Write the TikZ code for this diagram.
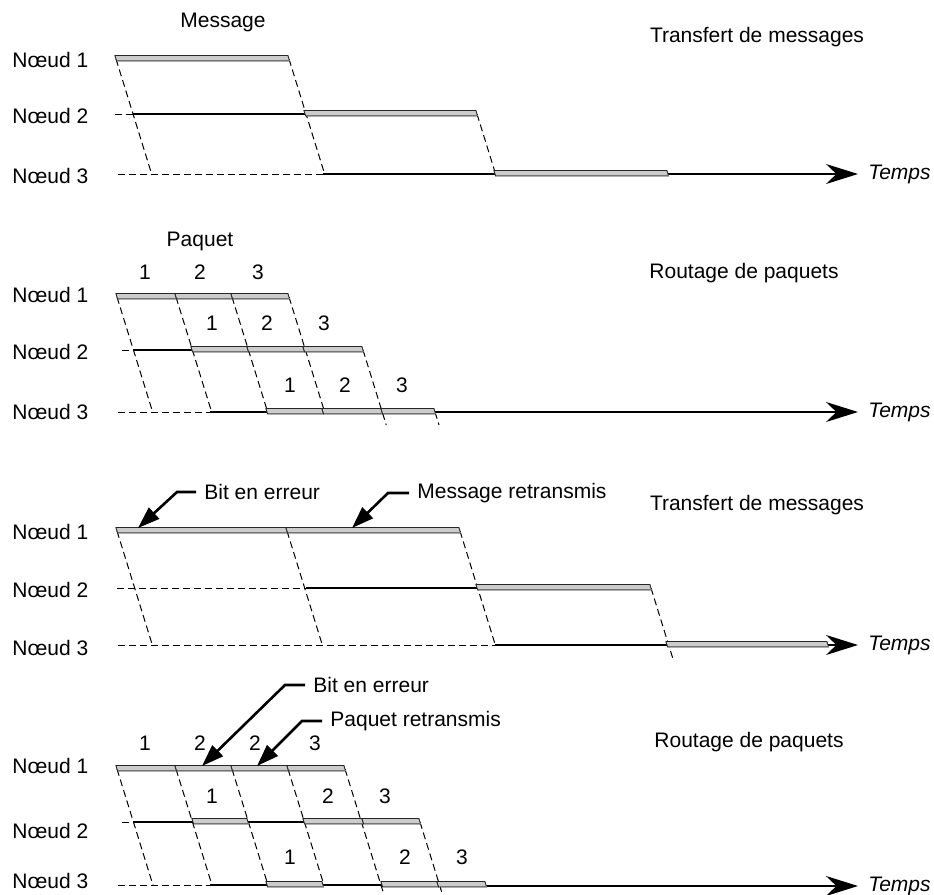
\documentclass[tikz,border=0pt]{standalone}
\usepackage{fontspec}
\setmainfont{Liberation Sans}
\usetikzlibrary{arrows.meta}

\begin{document}
\begin{tikzpicture}[x=.5pt,y=-.5pt,line join=miter,
  txt/.style={inner sep=0pt,font=\fontsize{10.5}{12}\selectfont},
  callout/.style={txt,inner xsep=4pt},
  timelabel/.style={txt,anchor=west,font=\fontsize{10.5}{12}\selectfont\itshape},
  idle/.style={line width=.5pt,dash pattern=on 3.5pt off 2pt},
  hop/.style={line width=.5pt,dash pattern=on 3.5pt off 2pt},
  busy/.style={line width=1.4pt},
  pkt/.style={draw=black!85,line width=.45pt,fill=black!20},
  pktlow/.style={draw=black!55,line width=.8pt},
  timeaxis/.style={line width=.6pt,-{Stealth[length=16pt,width=10pt]}},
  lead/.style={line width=1.3pt,-{Triangle[length=11pt,width=7.5pt]}}]

\useasboundingbox (0,0) rectangle (934,895);

% Part 1: message switching.
\node[txt] (msg) at (223,22) {Message};
\node[txt] (titlea) at (757,37) {Transfert de messages};
\foreach \ly/\n in {60/1,116/2,176/3}
  \node[txt,anchor=west] (a\n) at (12,\ly) {Nœud \n};
\draw[idle] (115,114) -- (133,114);
\draw[idle] (118,174) -- (323,174);
\foreach \x/\ya/\yb in {116/59/174,289/59/174,477/114/174}
  \draw[hop] (\x,\ya) -- ({\x+.31*(\yb-\ya)},\yb);
\draw[busy] (133,114) -- (305,114);
\draw[busy] (323,174) -- (495,174);
\node[timelabel] (ta) at (868,174) {Temps};
\draw[timeaxis] (668,174) -- ([xshift=-5pt]ta.west);
\foreach \a/\b/\y in {116/289/59,305/477/114,495/668/174}
{
  \draw[pkt] (\a-1.1,\y-3.5) -- (\b-1.1,\y-3.5) -- (\b+.6,\y+2) -- (\a+.6,\y+2) -- cycle;
  \draw[pktlow] (\a+.5,\y+1.4) -- (\b+.5,\y+1.4);
}

% Part 2: packet routing.
\node[txt] (pkt) at (200,241) {Paquet};
\node[txt] (titleb) at (744,273) {Routage de paquets};
\foreach \ly/\n in {295/1,352/2,412/3}
  \node[txt,anchor=west] (b\n) at (12,\ly) {Nœud \n};
\foreach \x/\y/\t in {145/272/1,200/272/2,258/272/3,212/323/1,267/323/2,324/323/3,
  290/385/1,345/385/2,402/385/3}
  \node[txt] (bn\x) at (\x,\y) {\t};
\draw[idle] (122,350) -- (133,350);
\draw[idle] (118,412) -- (210,412);
\foreach \x/\ya/\yb in {117/297/412,176/297/412,232/297/412,289/297/412,363/350/425,435/412/425}
  \draw[hop] (\x,\ya) -- ({\x+.31*(\yb-\ya)},\yb);
\draw[busy] (133,350) -- (192,350);
\draw[busy] (210,412) -- (267,412);
\node[timelabel] (tb) at (868,412) {Temps};
\draw[timeaxis] (435,412) -- ([xshift=-5pt]tb.west);
\foreach \a/\b/\y in {117/176/297,176/232/297,232/289/297,192/248/350,248/304/350,304/363/350,
  267/323/412,323/382/412,382/435/412}
{
  \draw[pkt] (\a-1.1,\y-3.5) -- (\b-1.1,\y-3.5) -- (\b+.6,\y+2) -- (\a+.6,\y+2) -- cycle;
  \draw[pktlow] (\a+.5,\y+1.4) -- (\b+.5,\y+1.4);
}

% Part 3: message switching with a bit error.
\node[txt] (titlec) at (757,505) {Transfert de messages};
\foreach \ly/\n in {532/1,590/2,648/3}
  \node[txt,anchor=west] (c\n) at (12,\ly) {Nœud \n};
\draw[idle] (117,588) -- (306,588);
\draw[idle] (118,645) -- (495,645);
\foreach \x/\ya/\yb in {117/531/645,287/531/645,460/531/645,651/588/660}
  \draw[hop] (\x,\ya) -- ({\x+.31*(\yb-\ya)},\yb);
\draw[busy] (306,588) -- (477,588);
\draw[busy] (495,645) -- (667,645);
\node[timelabel] (tc) at (868,645) {Temps};
\draw[timeaxis] (667,645) -- ([xshift=-5pt]tc.west);
\foreach \a/\b/\y in {117/287/531,287/460/531,477/651/588,667/828/645}
{
  \draw[pkt] (\a-1.1,\y-3.5) -- (\b-1.1,\y-3.5) -- (\b+.6,\y+2) -- (\a+.6,\y+2) -- cycle;
  \draw[pktlow] (\a+.5,\y+1.4) -- (\b+.5,\y+1.4);
}
\node[callout,anchor=west] (errc) at (196,492) {Bit en erreur};
\coordinate (errctip) at (138,528);
\draw[lead] (errc.west) -- ++(-19,0) -- (errctip);
\node[callout,anchor=west] (retc) at (409,493) {Message retransmis};
\coordinate (retctip) at (352,528);
\draw[lead] (retc.west) -- ++(-21,0) -- (retctip);

% Part 4: packet routing with a bit error.
\node[txt] (titled) at (749,742) {Routage de paquets};
\foreach \ly/\n in {766/1,831/2,881/3}
  \node[txt,anchor=west] (d\n) at (12,\ly) {Nœud \n};
\foreach \x/\y/\t in {145/743/1,200/743/2,255/743/2,315/743/3,212/796/1,328/796/2,385/796/3,
  290/857/1,405/857/2,462/857/3}
  \node[txt] (dn\x) at (\x,\y) {\t};
\draw[idle] (122,822) -- (133,822);
\draw[idle] (118,885) -- (210,885);
\foreach \x/\ya/\yb in {117/769/885,176/769/885,232/769/885,288/769/885,345/769/895,420/822/895}
  \draw[hop] (\x,\ya) -- ({\x+.31*(\yb-\ya)},\yb);
\draw[busy] (133,822) -- (193,822);
\draw[busy] (248,822) -- (304,822);
\draw[busy] (210,885) -- (267,885);
\draw[busy] (323,885) -- (382,885);
\node[timelabel] (td) at (868,886) {Temps};
\draw[timeaxis] (486,886) -- ([xshift=-5pt]td.west);
\foreach \a/\b/\y in {117/176/769,176/232/769,232/288/769,288/345/769,193/248/822,304/363/822,
  363/420/822,267/323/885,382/438/885,438/486/885}
{
  \draw[pkt] (\a-1.1,\y-3.5) -- (\b-1.1,\y-3.5) -- (\b+.6,\y+2) -- (\a+.6,\y+2) -- cycle;
  \draw[pktlow] (\a+.5,\y+1.4) -- (\b+.5,\y+1.4);
}
\node[callout,anchor=west] (errd) at (305,685) {Bit en erreur};
\coordinate (errdtip) at (202,766);
\draw[lead] (errd.west) -- ++(-20,0) -- (errdtip);
\node[callout,anchor=west] (retd) at (322,721) {Paquet retransmis};
\coordinate (retdtip) at (257,766);
\draw[lead] (retd.west) -- ++(-20,0) -- (retdtip);

\end{tikzpicture}
\end{document}
